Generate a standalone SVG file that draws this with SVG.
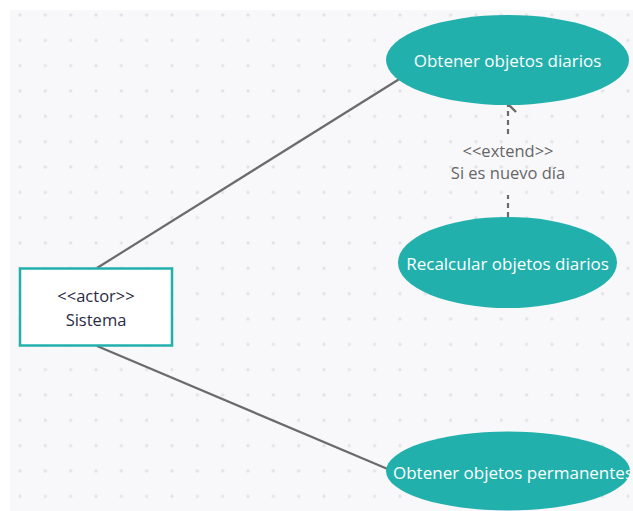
<svg xmlns="http://www.w3.org/2000/svg" width="633" height="511" viewBox="0 0 633 511">
<defs>
<pattern id="dots" x="20" y="15" width="25.33" height="25.33" patternUnits="userSpaceOnUse">
<circle cx="0" cy="0" r="1.6" fill="#e2e2e6"/>
<circle cx="25.33" cy="0" r="1.6" fill="#e2e2e6"/>
<circle cx="0" cy="25.33" r="1.6" fill="#e2e2e6"/>
<circle cx="25.33" cy="25.33" r="1.6" fill="#e2e2e6"/>
</pattern>
<marker id="open" viewBox="0 0 20 20" refX="10" refY="2" markerWidth="20" markerHeight="20" markerUnits="userSpaceOnUse" orient="auto-start-reverse">
<path d="M2,10 L10,2 L18,10" fill="none" stroke="#6b6b6b" stroke-width="2.4"/>
</marker>
<style>
.uc{fill:#22b0ad;}
.uct{fill:#ffffff;font-family:"Open Sans","Noto Sans",sans-serif;font-size:17px;text-anchor:middle;dominant-baseline:central;}
.act{fill:#ffffff;stroke:#22b0ad;stroke-width:2.5;}
.actt{fill:#2b2b45;font-family:"Open Sans","Noto Sans",sans-serif;font-size:16.5px;text-anchor:middle;}
.conn{stroke:#6b6b6b;stroke-width:2.2;fill:none;}
.lbl{fill:#666666;font-family:"Open Sans","Noto Sans",sans-serif;font-size:16.5px;text-anchor:middle;}
</style>
</defs>
<rect x="0" y="0" width="633" height="511" fill="#ffffff"/>
<rect x="10" y="10" width="623" height="501" fill="#f8f8fa"/>
<rect x="10" y="10" width="623" height="501" fill="url(#dots)"/>
<g id="connectors">
<line class="conn" x1="97" y1="268" x2="401" y2="78"/>
<line class="conn" x1="97" y1="346" x2="390" y2="470"/>
<line class="conn" x1="508" y1="217" x2="508" y2="195" stroke-dasharray="5,4"/>
<line class="conn" x1="508" y1="134" x2="508" y2="104" stroke-dasharray="5,4" marker-end="url(#open)"/>
<text class="lbl" x="508" y="157">&lt;&lt;extend&gt;&gt;</text>
<text class="lbl" x="508" y="179">Si es nuevo día</text>
</g>
<g id="uc-diarios">
<ellipse class="uc" cx="507.5" cy="60" rx="121.5" ry="45"/>
<text class="uct" x="507.5" y="60">Obtener objetos diarios</text>
</g>
<g id="uc-recalcular">
<ellipse class="uc" cx="507.5" cy="262.5" rx="109.5" ry="45.5"/>
<text class="uct" x="507.5" y="263">Recalcular objetos diarios</text>
</g>
<g id="uc-permanentes">
<ellipse class="uc" cx="508" cy="471" rx="122" ry="39.5"/>
<text class="uct" x="513" y="472">Obtener objetos permanentes</text>
</g>
<g id="actor-sistema">
<rect class="act" x="20" y="268.5" width="152" height="77"/>
<text class="actt" x="96" y="302">&lt;&lt;actor&gt;&gt;</text>
<text class="actt" x="96" y="326">Sistema</text>
</g>
</svg>
